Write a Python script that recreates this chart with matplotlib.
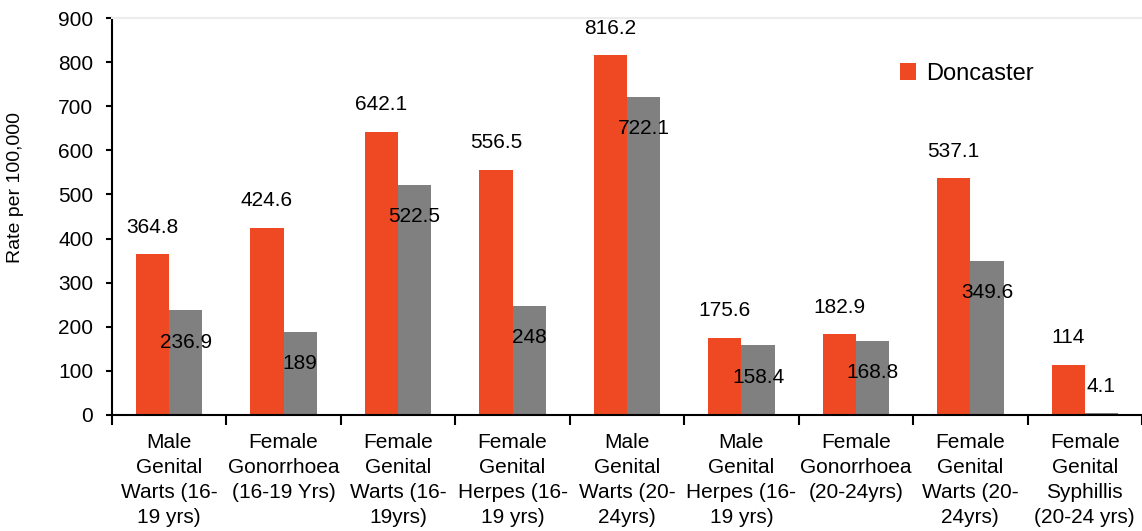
import matplotlib
matplotlib.use('Agg')
import matplotlib.pyplot as plt
import numpy as np

plt.rcParams['font.family'] = ['Liberation Sans', 'DejaVu Sans']

# categorias del eje x
categories = [
    'Male\nGenital\nWarts (16-\n19 yrs)',
    'Female\nGonorrhoea\n(16-19 Yrs)',
    'Female\nGenital\nWarts (16-\n19yrs)',
    'Female\nGenital\nHerpes (16-\n19 yrs)',
    'Male\nGenital\nWarts (20-\n24yrs)',
    'Male\nGenital\nHerpes (16-\n19 yrs)',
    'Female\nGonorrhoea\n(20-24yrs)',
    'Female\nGenital\nWarts (20-\n24yrs)',
    'Female\nGenital\nSyphillis\n(20-24 yrs)',
]
doncaster = [364.8, 424.6, 642.1, 556.5, 816.2, 175.6, 182.9, 537.1, 114]
comparator = [236.9, 189, 522.5, 248, 722.1, 158.4, 168.8, 349.6, 4.1]

orange = '#EF4923'
grey = '#808080'

fig = plt.figure(figsize=(11.42, 5.31), dpi=100)
ax = fig.add_axes([0.098, 0.2185, 0.902, 0.7475])

x = np.arange(len(categories))
w = 0.29
b1 = ax.bar(x - w / 2, doncaster, w, color=orange, label='Doncaster')
b2 = ax.bar(x + w / 2, comparator, w, color=grey, label='_nolegend_')

# etiquetas de valores
for xi, v in zip(x, doncaster):
    ax.annotate('%g' % v, (xi - w / 2, v), xytext=(0, 27), textcoords='offset pixels',
                ha='center', va='center', fontsize=15)
for xi, v in zip(x, comparator):
    off = -32 if v > 50 else 27
    ax.annotate('%g' % v, (xi + w / 2, v), xytext=(0, off), textcoords='offset pixels',
                ha='center', va='center', fontsize=15)

ax.set_xlim(-0.5, len(categories) - 0.5)
ax.set_ylim(0, 900)
ax.set_yticks(range(0, 901, 100))
ax.tick_params(axis='y', labelsize=15, length=4.5, width=1.5, pad=9)

ax.set_xticks(x)
ax.set_xticklabels(categories, fontsize=15, linespacing=1.4)
ax.tick_params(axis='x', which='major', length=0, pad=13)
ax.set_xticks(np.arange(-0.5, len(categories), 1.0), minor=True)
ax.tick_params(axis='x', which='minor', length=7, width=1.5)

ax.set_ylabel('Rate per 100,000', fontsize=14)
ax.yaxis.set_label_coords(-0.0855, 0.572)

for s in ['left', 'bottom']:
    ax.spines[s].set_linewidth(1.5)
ax.spines['right'].set_visible(False)
ax.spines['top'].set_color('#ececec')
ax.spines['top'].set_linewidth(1.5)

ax.legend(handles=[b1], labels=['Doncaster'], loc='center left',
          bbox_to_anchor=(0.765, 0.86), frameon=False, fontsize=17,
          handlelength=0.7, handleheight=0.7, handletextpad=0.4,
          borderaxespad=0, borderpad=0)

plt.savefig('out.png', dpi=100)
plt.close()
